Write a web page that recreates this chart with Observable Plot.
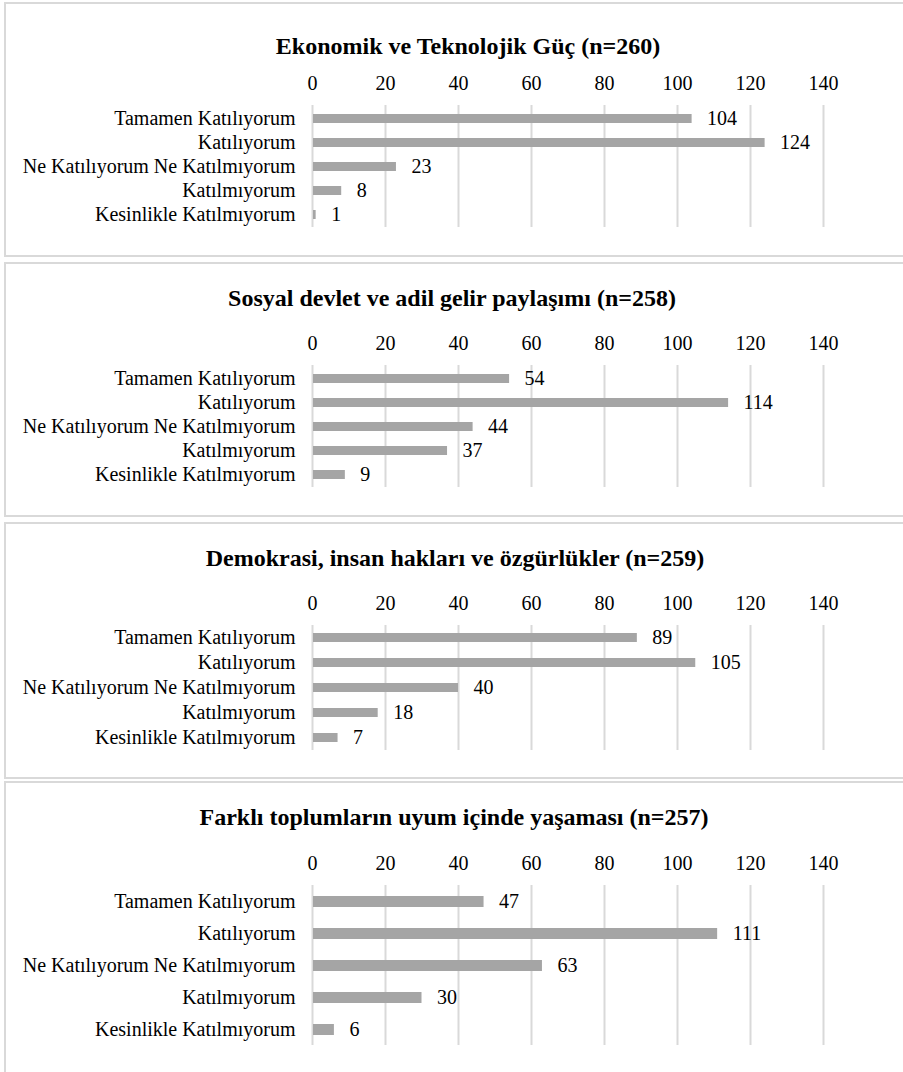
<!DOCTYPE html>
<html>
<head>
<meta charset="utf-8">
<script src="https://cdn.jsdelivr.net/npm/d3@7"></script>
<script src="https://cdn.jsdelivr.net/npm/@observablehq/plot@0.6"></script>
<style>
  html, body { margin: 0; padding: 0; background: #ffffff; }
  body { width: 903px; height: 1072px; overflow: hidden; position: relative; font-family: "Liberation Serif", "Times New Roman", serif; }
  .panel { position: absolute; left: 4px; width: 910px; box-sizing: border-box; border: 2px solid #d9d9d9; background: #fff; }
  .title { position: absolute; font-weight: bold; font-size: 24px; line-height: 24px; white-space: nowrap; color: #000; transform: translate(-50%, -50%); }
  .chart { position: absolute; left: 0; }
</style>
</head>
<body>
<script>
const categories = ["Tamamen Katılıyorum", "Katılıyorum", "Ne Katılıyorum Ne Katılmıyorum", "Katılmıyorum", "Kesinlikle Katılmıyorum"];
const titles = [
  "Ekonomik ve Teknolojik Güç (n=260)",
  "Sosyal devlet ve adil gelir paylaşımı (n=258)",
  "Demokrasi, insan hakları ve özgürlükler (n=259)",
  "Farklı toplumların uyum içinde yaşaması (n=257)"
];
const ekonomikValues = [104, 124, 23, 8, 1];
const sosyalValues = [54, 114, 44, 37, 9];
const demokrasiValues = [89, 105, 40, 18, 7];
const farkliValues = [47, 111, 63, 30, 6];
const tickValues = [0, 20, 40, 60, 80, 100, 120, 140];

const seriesList = [ekonomikValues, sosyalValues, demokrasiValues, farkliValues];

// layout per panel (page pixel coordinates)
const layouts = [
  {top: 2,   bottom: 257,  titleX: 468, titleY: 46,  tickY: 82,  frameTop: 105, frameBottom: 227, bar: 9},
  {top: 262, bottom: 517,  titleX: 452, titleY: 298, tickY: 343, frameTop: 365, frameBottom: 487, bar: 9},
  {top: 522, bottom: 779,  titleX: 455, titleY: 558, tickY: 602, frameTop: 625, frameBottom: 750, bar: 9},
  {top: 781, bottom: 1090, titleX: 454, titleY: 817, tickY: 862, frameTop: 885, frameBottom: 1045, bar: 11}
];

const fontFamily = '"Liberation Serif", "Times New Roman", serif';

layouts.forEach((L, i) => {
  const panel = document.createElement("div");
  panel.className = "panel";
  panel.style.top = L.top + "px";
  panel.style.height = (L.bottom - L.top) + "px";
  document.body.appendChild(panel);

  const title = document.createElement("div");
  title.className = "title";
  title.style.left = L.titleX + "px";
  title.style.top = L.titleY + "px";
  title.textContent = titles[i];
  document.body.appendChild(title);

  const data = categories.map((c, k) => ({label: c, value: seriesList[i][k]}));
  const svgTop = L.tickY - 24;
  const marginTop = L.frameTop - svgTop;
  const marginBottom = 4;
  const height = marginTop + (L.frameBottom - L.frameTop) + marginBottom;
  const step = (L.frameBottom - L.frameTop) / categories.length;
  const pInner = 1 - L.bar / step;

  const chart = Plot.plot({
    width: 903,
    height,
    marginLeft: 312,
    marginRight: 80,
    marginTop,
    marginBottom,
    style: {fontFamily, fontSize: "20px", color: "#000", background: "transparent", overflow: "visible"},
    x: {domain: [0, 140], axis: null, label: null},
    y: {domain: categories, axis: null, label: null, paddingInner: pInner, paddingOuter: pInner / 2},
    marks: [
      Plot.gridX(tickValues, {stroke: "#d9d9d9", strokeOpacity: 1, strokeWidth: 2}),
      Plot.axisX(tickValues, {anchor: "top", label: null, tickSize: 0, tickPadding: 16, fontSize: 20, fill: "#000", tickFormat: d => String(d)}),
      Plot.axisY({anchor: "left", label: null, tickSize: 0, tickPadding: 17, fontSize: 20, fill: "#000"}),
      Plot.barX(data, {x: "value", y: "label", fill: "#a5a5a5", insetLeft: 1}),
      Plot.text(data, {x: "value", y: "label", text: d => String(d.value), dx: 15, textAnchor: "start", fontSize: 20, fill: "#000"})
    ]
  });
  chart.classList.add("chart");
  chart.style.top = svgTop + "px";
  document.body.appendChild(chart);
});
</script>
</body>
</html>
